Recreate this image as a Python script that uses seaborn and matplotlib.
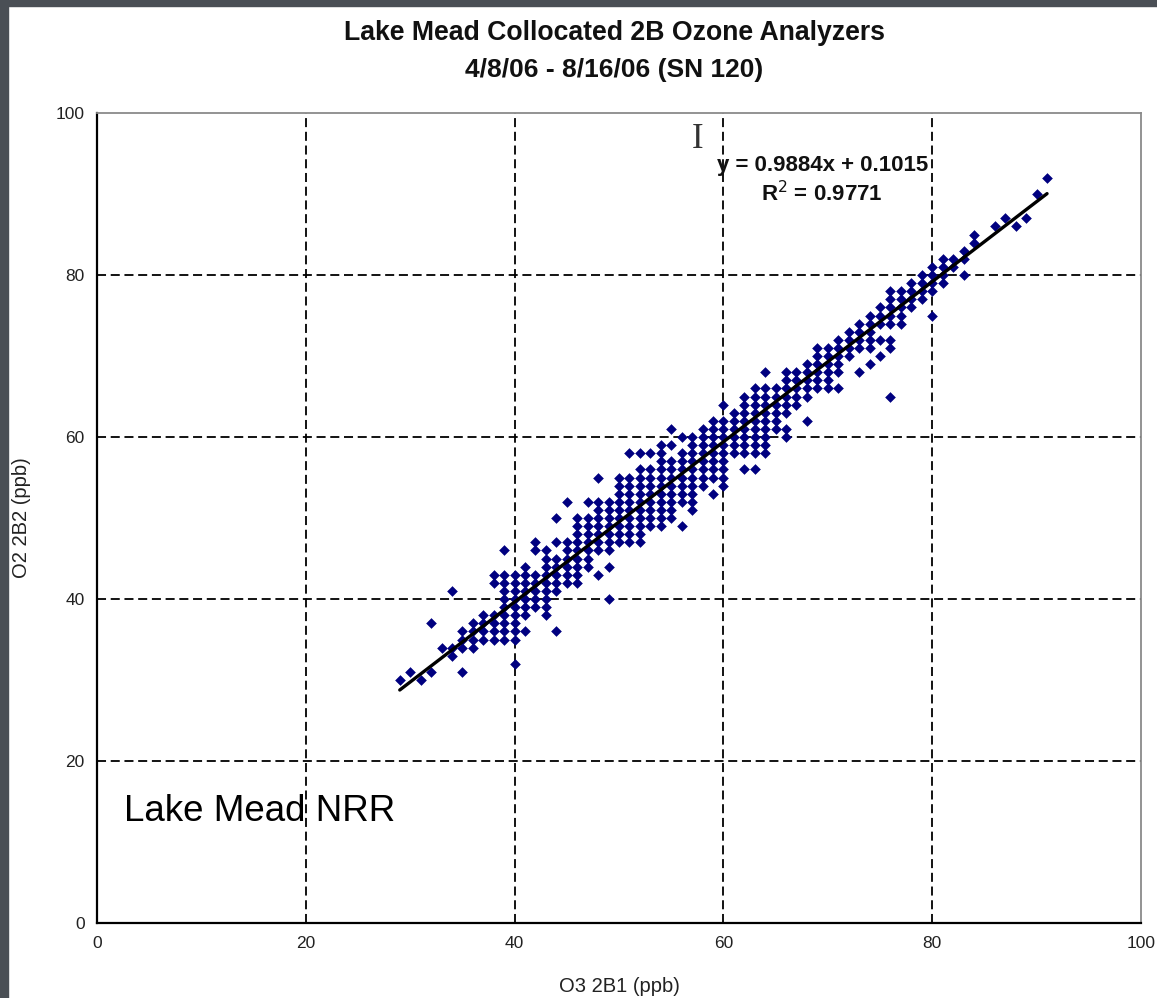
import numpy as np
import pandas as pd
import matplotlib
matplotlib.use("Agg")
import matplotlib.pyplot as plt
import seaborn as sns
from matplotlib.patches import Rectangle

# ---------------- data ----------------
x_values = [29, 30, 31, 32, 33, 34, 35, 36, 37, 38, 39, 40, 41, 42, 43, 44, 45,
            46, 47, 48, 49, 50, 51, 52, 53, 54, 55, 56, 57, 58, 59, 60, 61, 62,
            63, 64, 65, 66, 67, 68, 69, 70, 71, 72, 73, 74, 75, 76, 77, 78, 79,
            80, 81, 82, 83, 84, 86, 87, 88, 89, 90, 91]
y_lists = [
    [30], [31], [30], [31, 37], [34], [33, 34, 41], [31, 34, 35, 36],
    [34, 35, 36, 37], [35, 36, 37, 38], [35, 36, 37, 38, 42, 43],
    [35, 36, 37, 38, 39, 40, 41, 42, 43, 46],
    [32, 35, 36, 37, 38, 39, 40, 41, 42, 43],
    [36, 38, 39, 40, 41, 42, 43, 44],
    [39, 40, 41, 42, 43, 46, 47],
    [38, 39, 40, 41, 42, 43, 44, 45, 46],
    [36, 41, 42, 43, 44, 45, 47, 50],
    [42, 43, 44, 45, 46, 47, 52],
    [42, 43, 44, 45, 46, 47, 48, 49, 50],
    [44, 45, 46, 47, 48, 49, 50, 52],
    [43, 46, 47, 48, 49, 50, 51, 52, 55],
    [40, 44, 46, 47, 48, 49, 50, 51, 52],
    [47, 48, 49, 50, 51, 52, 53, 54, 55],
    [47, 48, 49, 50, 51, 52, 53, 54, 55, 58],
    [47, 48, 49, 50, 51, 52, 53, 54, 55, 56, 58],
    [49, 50, 51, 52, 53, 54, 55, 56, 58],
    [49, 50, 51, 52, 53, 54, 55, 56, 57, 58, 59],
    [50, 51, 52, 53, 54, 55, 56, 57, 59, 61],
    [49, 52, 53, 54, 55, 56, 57, 58, 60],
    [51, 52, 53, 54, 55, 56, 57, 58, 59, 60],
    [54, 55, 56, 57, 58, 59, 60, 61],
    [53, 55, 56, 57, 58, 59, 60, 61, 62],
    [54, 55, 56, 57, 58, 59, 60, 61, 62, 64],
    [58, 59, 60, 61, 62, 63],
    [56, 58, 59, 60, 61, 62, 63, 64, 65],
    [56, 58, 59, 60, 61, 62, 63, 64, 65, 66],
    [58, 59, 60, 61, 62, 63, 64, 65, 66, 68],
    [61, 62, 63, 64, 65, 66],
    [60, 61, 63, 64, 65, 66, 67, 68],
    [64, 65, 66, 67, 68],
    [62, 65, 66, 67, 68, 69],
    [66, 67, 68, 69, 70, 71],
    [66, 67, 68, 69, 70, 71],
    [66, 68, 69, 70, 71, 72],
    [70, 71, 72, 73],
    [68, 71, 72, 73, 74],
    [69, 71, 72, 73, 74, 75],
    [70, 72, 74, 75, 76],
    [65, 71, 72, 74, 75, 76, 77, 78],
    [74, 75, 76, 77, 78],
    [76, 77, 78, 79],
    [77, 78, 79, 80],
    [75, 78, 79, 80, 81],
    [79, 80, 81, 82],
    [81, 82],
    [80, 82, 83],
    [84, 85],
    [86], [87], [86], [87], [90], [92],
]

fit_slope = 0.9884
fit_intercept = 0.1015
fit_x_range = [29, 91]

x_ticks = [0, 20, 40, 60, 80, 100]
y_ticks = [0, 20, 40, 60, 80, 100]

title_lines = ["Lake Mead Collocated 2B Ozone Analyzers", "4/8/06 - 8/16/06 (SN 120)"]
x_label = "O3 2B1 (ppb)"
y_label = "O2 2B2 (ppb)"
equation_text = "y = 0.9884x + 0.1015"
r2_text = "R$^2$ = 0.9771"
site_text = "Lake Mead NRR"

# ---------------- build tables ----------------
rows = [(x, y) for x, ys in zip(x_values, y_lists) for y in ys]
df = pd.DataFrame(rows, columns=["O3 2B1", "O2 2B2"])
fit_df = pd.DataFrame({"x": fit_x_range})
fit_df["y"] = fit_slope * fit_df["x"] + fit_intercept

# ---------------- style ----------------
sns.set_theme(style="white")
plt.rcParams["font.family"] = ["Liberation Sans", "DejaVu Sans"]

W, H = 1157, 998
fig = plt.figure(figsize=(W / 100, H / 100), dpi=100)
fig.patch.set_facecolor("white")
ax = fig.add_axes([97 / W, 1 - 923 / H, (1141 - 97) / W, (923 - 113) / H])

sns.scatterplot(data=df, x="O3 2B1", y="O2 2B2", ax=ax, marker="D", s=25,
                color="#000080", edgecolor="#000080", linewidth=0.4, zorder=3)
sns.lineplot(data=fit_df, x="x", y="y", ax=ax, color="black", linewidth=2.4,
             zorder=4)

ax.set_xlim(0, 100)
ax.set_ylim(0, 100)
ax.set_xticks(x_ticks)
ax.set_yticks(y_ticks)
ax.set_xlabel(x_label, fontsize=14.5, color="#222222", labelpad=19)
ax.set_ylabel(y_label, fontsize=14.5, color="#222222", labelpad=18)

ax.grid(True, color="black", linestyle=(0, (5, 2.6)), linewidth=1.3, zorder=1)
for gl in (ax.xaxis.get_gridlines(), ax.yaxis.get_gridlines()):
    gl[0].set_visible(False)
    gl[-1].set_visible(False)
ax.set_axisbelow(True)

ax.tick_params(direction="out", length=5, width=1.2, color="black",
               labelsize=12.5, labelcolor="#222222", pad=4)

for side in ["left", "bottom"]:
    ax.spines[side].set_color("black")
    ax.spines[side].set_linewidth(1.6)
for side in ["top", "right"]:
    ax.spines[side].set_color("#8a8a8a")
    ax.spines[side].set_linewidth(1.3)
    ax.spines[side].set_visible(True)

# titles
fig.text(614 / W, 1 - 33 / H, title_lines[0], ha="center", va="center",
         fontsize=19.2, fontweight="bold", color="#111111")
fig.text(614 / W, 1 - 70 / H, title_lines[1], ha="center", va="center",
         fontsize=19.0, fontweight="bold", color="#111111")

# trendline annotation
ax.text(69.5, 93.5, equation_text, ha="center", va="center", fontsize=16,
        fontweight="bold", color="#111111", zorder=5)
ax.text(69.4, 90.1, r2_text, ha="center", va="center", fontsize=16,
        fontweight="bold", color="#111111", zorder=5)

# cursor glyph seen in the reference
ax.text(57.5, 96.7, "I", ha="center", va="center", fontsize=25,
        family=["Liberation Serif", "DejaVu Serif"], color="#333333", zorder=5)

# site label
ax.text(2.6, 13.8, site_text, ha="left", va="center", fontsize=26.5,
        color="black", zorder=5)

# dark frame of the screenshot (left and top edges)
fig.patches.append(Rectangle((0, 0), 8 / W, 1, transform=fig.transFigure,
                             color="#4a4f55", zorder=10))
fig.patches.append(Rectangle((0, 1 - 6 / H), 1, 6 / H, transform=fig.transFigure,
                             color="#4a4f55", zorder=10))

fig.savefig("out.png", dpi=100, facecolor="white")
